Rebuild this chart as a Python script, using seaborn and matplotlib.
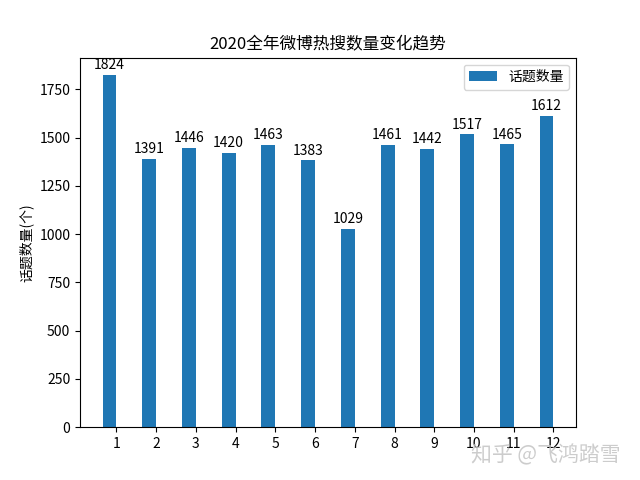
import pandas as pd
import matplotlib
matplotlib.use('Agg')
import matplotlib.pyplot as plt
import seaborn as sns

months = [1, 2, 3, 4, 5, 6, 7, 8, 9, 10, 11, 12]
counts = [1824, 1391, 1446, 1420, 1463, 1383, 1029, 1461, 1442, 1517, 1465, 1612]
series = '话题数量'

plt.rcParams['font.family'] = ['Noto Sans CJK SC', 'DejaVu Sans']
plt.rcParams['axes.unicode_minus'] = False

df = pd.DataFrame({'month': months, 'count': counts, 'kind': series})

fig, ax = plt.subplots(figsize=(6.4, 4.8), dpi=100)
# empty second hue level so the bar sits left of each tick
sns.barplot(data=df, x='month', y='count', hue='kind', hue_order=[series, '_pad'],
            palette=['#1f77b4', '#ff7f0e'], native_scale=True, width=0.7,
            saturation=1, dodge=True, legend=False, ax=ax)
ax.bar_label(ax.containers[0], fontsize=10, padding=2)
ax.set_xticks(months)
ax.set_xticklabels([str(m) for m in months])
ax.set_xlabel('')
ax.set_ylabel('话题数量(个)')
ax.set_title('2020全年微博热搜数量变化趋势')
ax.legend(handles=[ax.containers[0]], labels=[series], loc='upper right')
fig.text(0.97, 0.028, '知乎 @飞鸿踏雪', ha='right', va='bottom', fontsize=15,
         color='#c4c4c4', alpha=0.85)
plt.savefig('out.png')
plt.close()
